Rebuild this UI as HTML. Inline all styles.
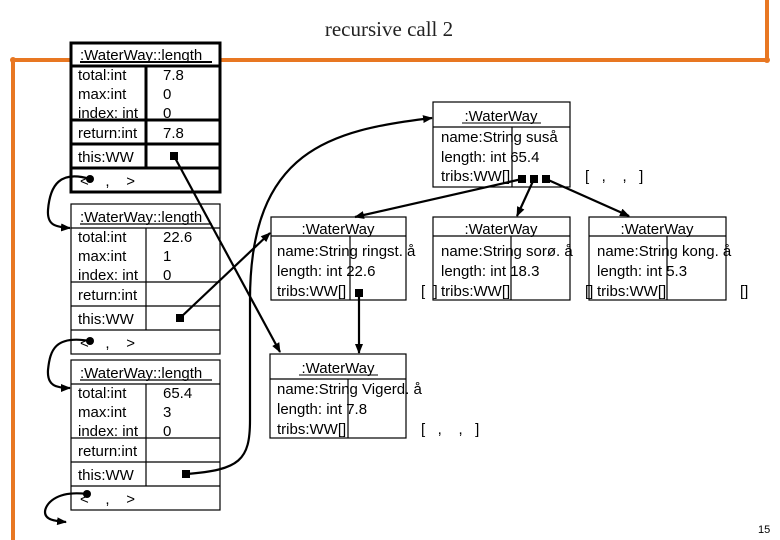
<!DOCTYPE html>
<html><head><meta charset="utf-8"><style>
html,body{margin:0;padding:0;background:#fff;}
svg{display:block;}
text{font-family:"Liberation Sans",sans-serif;font-size:15px;fill:#000;}
</style></head><body>
<svg width="780" height="540" viewBox="0 0 780 540" xmlns="http://www.w3.org/2000/svg">
<defs>
<marker id="ah" markerWidth="10" markerHeight="8" refX="9" refY="4" orient="auto" markerUnits="userSpaceOnUse">
<path d="M0,0 L10,4 L0,8 z" fill="#000"/></marker>
</defs>
<g stroke="#e87722" stroke-width="4" fill="none">
<line x1="12" y1="60" x2="768" y2="60"/>
<line x1="13" y1="60" x2="13" y2="540"/>
<line x1="767" y1="0" x2="767" y2="60"/>
</g>
<circle cx="13" cy="60" r="3" fill="#e87722"/><circle cx="767" cy="60" r="3" fill="#e87722"/>
<text x="389" y="36" text-anchor="middle" style="font-family:'Liberation Serif',serif;font-size:21px;fill:#222">recursive call 2</text>

<rect x="71" y="43" width="149" height="149" fill="#fff" stroke="#000" stroke-width="3"/>
<g stroke="#000" stroke-width="3">
<line x1="71" y1="66" x2="220" y2="66"/><line x1="71" y1="120" x2="220" y2="120"/>
<line x1="71" y1="144" x2="220" y2="144"/><line x1="71" y1="168" x2="220" y2="168"/>
<line x1="146" y1="66" x2="146" y2="168"/></g>
<text x="80" y="60">:WaterWay::length</text><line x1="80" y1="62" x2="212" y2="62" stroke="#000" stroke-width="2"/>
<text x="78" y="80">total:int</text><text x="163" y="80">7.8</text>
<text x="78" y="99">max:int</text><text x="163" y="99">0</text>
<text x="78" y="118">index: int</text><text x="163" y="118">0</text>
<text x="78" y="138">return:int</text><text x="163" y="138">7.8</text>
<text x="78" y="162">this:WW</text>
<text x="80" y="186">&lt;&#160;&#160;&#160;&#160;,&#160;&#160;&#160;&#160;&gt;</text>

<g fill="none" stroke="#000" stroke-width="1.2">
<rect x="71" y="204" width="149" height="150" fill="#fff"/>
<line x1="71" y1="228" x2="220" y2="228"/><line x1="71" y1="282" x2="220" y2="282"/>
<line x1="71" y1="306" x2="220" y2="306"/><line x1="71" y1="330" x2="220" y2="330"/>
<line x1="146" y1="228" x2="146" y2="330"/></g>
<text x="80" y="222">:WaterWay::length</text><line x1="80" y1="224" x2="212" y2="224" stroke="#000" stroke-width="1.2"/>
<text x="78" y="242">total:int</text><text x="163" y="242">22.6</text>
<text x="78" y="261">max:int</text><text x="163" y="261">1</text>
<text x="78" y="280">index: int</text><text x="163" y="280">0</text>
<text x="78" y="300">return:int</text>
<text x="78" y="324">this:WW</text>
<text x="80" y="348">&lt;&#160;&#160;&#160;&#160;,&#160;&#160;&#160;&#160;&gt;</text>

<g fill="none" stroke="#000" stroke-width="1.2">
<rect x="71" y="360" width="149" height="150" fill="#fff"/>
<line x1="71" y1="384" x2="220" y2="384"/><line x1="71" y1="438" x2="220" y2="438"/>
<line x1="71" y1="462" x2="220" y2="462"/><line x1="71" y1="486" x2="220" y2="486"/>
<line x1="146" y1="384" x2="146" y2="486"/></g>
<text x="80" y="378">:WaterWay::length</text><line x1="80" y1="380" x2="212" y2="380" stroke="#000" stroke-width="1.2"/>
<text x="78" y="398">total:int</text><text x="163" y="398">65.4</text>
<text x="78" y="417">max:int</text><text x="163" y="417">3</text>
<text x="78" y="436">index: int</text><text x="163" y="436">0</text>
<text x="78" y="456">return:int</text>
<text x="78" y="480">this:WW</text>
<text x="80" y="504">&lt;&#160;&#160;&#160;&#160;,&#160;&#160;&#160;&#160;&gt;</text>

<g fill="none" stroke="#000" stroke-width="1.2">
<rect x="433" y="102" width="137" height="85"/><line x1="433" y1="127" x2="570" y2="127"/><line x1="512" y1="127" x2="512" y2="187"/>
<rect x="271" y="217" width="135" height="83"/><line x1="271" y1="236" x2="406" y2="236"/><line x1="350" y1="236" x2="350" y2="300"/>
<rect x="433" y="217" width="137" height="83"/><line x1="433" y1="236" x2="570" y2="236"/><line x1="511" y1="236" x2="511" y2="300"/>
<rect x="589" y="217" width="137" height="83"/><line x1="589" y1="236" x2="726" y2="236"/><line x1="667" y1="236" x2="667" y2="300"/>
<rect x="270" y="354" width="136" height="84"/><line x1="270" y1="379" x2="406" y2="379"/><line x1="348" y1="379" x2="348" y2="438"/>
</g>
<g>
<text x="501" y="121" text-anchor="middle">:WaterWay</text><line x1="462" y1="123" x2="541" y2="123" stroke="#000"/>
<text x="441" y="142">name:String suså</text><text x="441" y="162">length: int 65.4</text><text x="441" y="181">tribs:WW[]</text>
<text x="585" y="181">[&#160;&#160;&#160;,&#160;&#160;&#160;&#160;,&#160;&#160;&#160;]</text>

<text x="338" y="234" text-anchor="middle">:WaterWay</text><line x1="299" y1="236" x2="378" y2="236" stroke="#000"/>
<text x="277" y="256">name:String ringst. å</text><text x="277" y="276">length: int 22.6</text><text x="277" y="296">tribs:WW[]</text>
<text x="421" y="296">[&#160;&#160;]</text>

<text x="501" y="234" text-anchor="middle">:WaterWay</text><line x1="462" y1="236" x2="541" y2="236" stroke="#000"/>
<text x="441" y="256">name:String sorø. å</text><text x="441" y="276">length: int 18.3</text><text x="441" y="296">tribs:WW[]</text>

<text x="657" y="234" text-anchor="middle">:WaterWay</text><line x1="618" y1="236" x2="697" y2="236" stroke="#000"/>
<text x="597" y="256">name:String kong. å</text><text x="597" y="276">length: int 5.3</text><text x="597" y="296">tribs:WW[]</text>
<text x="585" y="296">[]</text><text x="740" y="296">[]</text>

<text x="338" y="373" text-anchor="middle">:WaterWay</text><line x1="299" y1="375" x2="378" y2="375" stroke="#000"/>
<text x="277" y="394">name:String Vigerd. å</text><text x="277" y="414">length: int 7.8</text><text x="277" y="434">tribs:WW[]</text>
<text x="421" y="434">[&#160;&#160;&#160;,&#160;&#160;&#160;&#160;,&#160;&#160;&#160;]</text>
</g>

<g fill="none" stroke="#000" stroke-width="2.2" marker-end="url(#ah)">
<path d="M174,156 L280,352"/>
<path d="M180,318 L270,233"/>
<path d="M186,474 C240,470 250,460 250,420 L250,300 C250,150 330,130 432,118"/>
<path d="M522,179 L355,217"/>
<path d="M534,179 L517,216"/>
<path d="M546,179 L629,216"/>
<path d="M359,293 L359,353"/>
<path d="M90,179 C60,170 50,185 48,210 C47,225 55,227 70,228"/>
<path d="M90,341 C55,335 50,350 48,370 C47,385 55,388 70,388"/>
<path d="M87,494 C55,490 45,505 45,512 C45,520 55,521 66,522"/>
</g>
<g fill="#000">
<rect x="170" y="152" width="8" height="8"/><rect x="176" y="314" width="8" height="8"/><rect x="182" y="470" width="8" height="8"/>
<rect x="518" y="175" width="8" height="8"/><rect x="530" y="175" width="8" height="8"/><rect x="542" y="175" width="8" height="8"/>
<rect x="355" y="289" width="8" height="8"/>
<circle cx="90" cy="179" r="4"/><circle cx="90" cy="341" r="4"/><circle cx="87" cy="494" r="4"/>
</g>
<text x="758" y="533" style="font-size:11px">15</text>
</svg>
</body></html>
